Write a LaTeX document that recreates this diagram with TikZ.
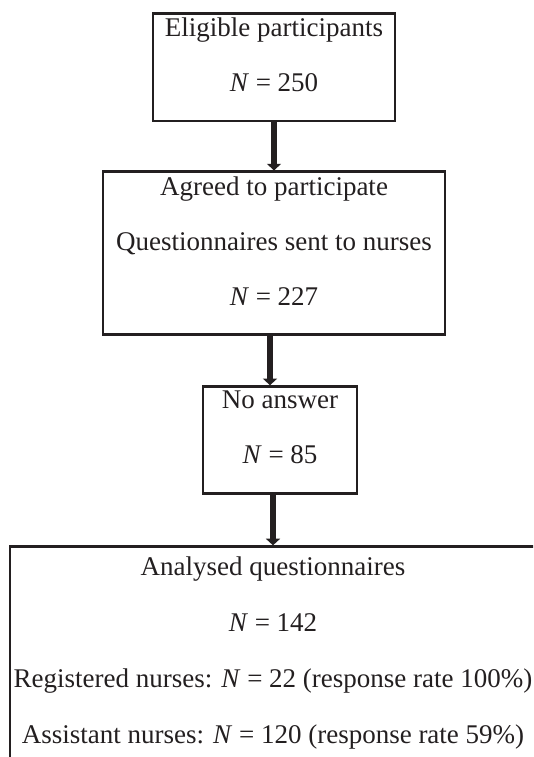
\documentclass[tikz,border=0pt]{standalone}
\usepackage{fontspec}
\setmainfont{Liberation Serif}
\usetikzlibrary{arrows.meta,positioning}
\definecolor{ink}{HTML}{231F20}
\newcommand{\nval}[1]{\textit{N} = #1}
\newcommand{\padline}{\\[-22.5pt]\mbox{}}

\begin{document}
\begin{tikzpicture}[x=0.75pt, y=0.75pt, node distance=38pt,
    every node/.style={font=\fontsize{20.25}{41.25}\selectfont, text=ink},
    flowbox/.style={draw=ink, line width=2pt, align=center, inner xsep=2pt, inner ysep=3.4pt},
    flow/.style={draw=ink, line width=4.8pt, -{Triangle[width=10.5pt,length=5pt]}}]
  \clip (0,0) rectangle (533,-757);
  \node[flowbox, minimum width=181.5pt, anchor=north] (elig) at (274,-12) {Eligible participants\\\nval{250}\padline};
  \node[flowbox, minimum width=256.5pt, below=36pt of elig] (agreed) {Agreed to participate\\Questionnaires sent to nurses\\\nval{227}\padline};
  \node[flowbox, minimum width=115.5pt, below=37pt of agreed, xshift=4.5pt] (noans) {No answer\\\nval{85}\padline};
  \node[flowbox, minimum width=394.5pt, inner ysep=7.5pt, font=\fontsize{20.25}{42}\selectfont,
    below=of noans, xshift=-5.25pt] (analysed) {Analysed questionnaires\\\nval{142}\\Registered nurses: \nval{22} (response rate 100\%)\\Assistant nurses: \nval{120} (response rate 59\%)\padline};
  \draw[flow] (elig.south) -- (agreed.north);
  \draw[flow] ([xshift=-3pt]agreed.south) -- ([xshift=-3pt]agreed.south |- noans.north);
  \draw[flow] (noans.south -| analysed.north) -- (analysed.north);
\end{tikzpicture}
\end{document}
